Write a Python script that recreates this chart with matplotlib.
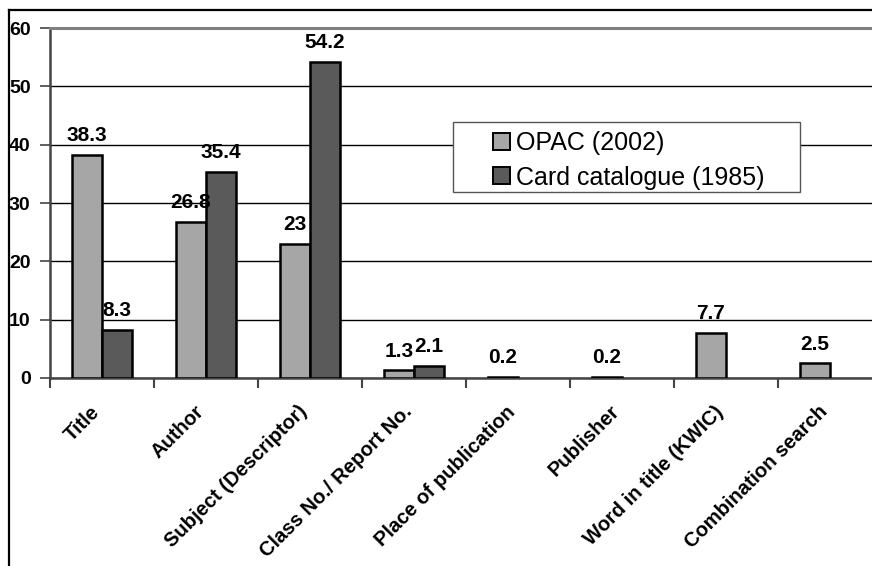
import numpy as np
import matplotlib
matplotlib.use("Agg")
import matplotlib.pyplot as plt
import matplotlib.transforms as mtransforms
from matplotlib.lines import Line2D
from matplotlib.patches import Rectangle

plt.rcParams['font.family'] = ['Liberation Sans', 'DejaVu Sans']

# data
categories = ["Title", "Author", "Subject (Descriptor)", "Class No./ Report No.",
              "Place of publication", "Publisher", "Word in title (KWIC)",
              "Combination search"]
opac = [38.3, 26.8, 23, 1.3, 0.2, 0.2, 7.7, 2.5]
card = [8.3, 35.4, 54.2, 2.1, np.nan, np.nan, np.nan, np.nan]
opac_labels = ["38.3", "26.8", "23", "1.3", "0.2", "0.2", "7.7", "2.5"]
card_labels = ["8.3", "35.4", "54.2", "2.1", "", "", "", ""]
yticks = [0, 10, 20, 30, 40, 50, 60]

fig = plt.figure(figsize=(8.72, 5.66), dpi=100)
ax = fig.add_axes([50 / 872, 188 / 566, 832 / 872, 350 / 566])

x = np.arange(len(categories))
w = 0.29
ax.bar(x - w / 2, opac, w, color="#a6a6a6", edgecolor="black", linewidth=1.8,
       label="OPAC (2002)", zorder=3)
ax.bar(x + w / 2, card, w, color="#5a5a5a", edgecolor="black", linewidth=1.8,
       label="Card catalogue (1985)", zorder=3)

# value labels
for xi, v, t in zip(x - w / 2, opac, opac_labels):
    ax.annotate(t, (xi, v), xytext=(0, 7), textcoords="offset points",
                ha="center", va="bottom", fontsize=15, fontweight="bold")
for xi, v, t in zip(x + w / 2, card, card_labels):
    if t:
        ax.annotate(t, (xi, v), xytext=(0, 7), textcoords="offset points",
                    ha="center", va="bottom", fontsize=15, fontweight="bold")

ax.set_xlim(-0.5, len(categories) - 0.5)
ax.set_ylim(0, 60)
ax.set_yticks(yticks)
ax.set_yticklabels([str(t) for t in yticks], fontsize=14, fontweight="bold")
ax.yaxis.grid(True, color="black", linewidth=1)
ax.set_axisbelow(True)

# category labels, ticks between groups
ax.set_xticks(x)
ax.set_xticklabels(categories, rotation=45, ha="right", rotation_mode="anchor",
                   fontsize=14.5, fontweight="bold")
ax.tick_params(axis="x", which="major", length=0, pad=13)
shift = mtransforms.ScaledTranslation(-12 / 100, -6 / 100, fig.dpi_scale_trans)
for lab in ax.get_xticklabels():
    lab.set_transform(lab.get_transform() + shift)
ax.set_xticks(np.arange(len(categories)) - 0.5, minor=True)
ax.tick_params(axis="x", which="minor", length=7, width=1.5, color="#444444",
               direction="out")
ax.tick_params(axis="y", length=7, width=1.2, color="#444444", pad=7)

for s in ["left", "bottom"]:
    ax.spines[s].set_color("#444444")
    ax.spines[s].set_linewidth(1.8)
ax.spines["top"].set_color("#808080")
ax.spines["top"].set_linewidth(2.2)
ax.spines["right"].set_visible(False)

# legend box drawn separately so it can be wider than the entries
box = Rectangle((453 / 872, 1 - 192 / 566), 347 / 872, 70 / 566,
                transform=fig.transFigure, facecolor="white", edgecolor="#555555",
                linewidth=1.0, zorder=4, clip_on=False)
ax.add_patch(box)
leg = ax.legend(loc="upper left", bbox_to_anchor=(488 / 872, 1 - 126 / 566),
                bbox_transform=fig.transFigure, fontsize=18, frameon=False,
                handlelength=0.68, handleheight=0.68, handletextpad=0.25,
                borderpad=0.2, labelspacing=0.42, borderaxespad=0)
leg.set_zorder(5)
for h in leg.legend_handles:
    h.set_linewidth(1.4)

# outer chart border (only left and top visible)
fig.add_artist(Line2D([9 / 872, 9 / 872], [0, 1 - 10 / 566], color="black",
                      linewidth=1.6, transform=fig.transFigure))
fig.add_artist(Line2D([9 / 872, 1], [1 - 10 / 566, 1 - 10 / 566], color="black",
                      linewidth=1.6, transform=fig.transFigure))

fig.savefig("out.png", dpi=100)
